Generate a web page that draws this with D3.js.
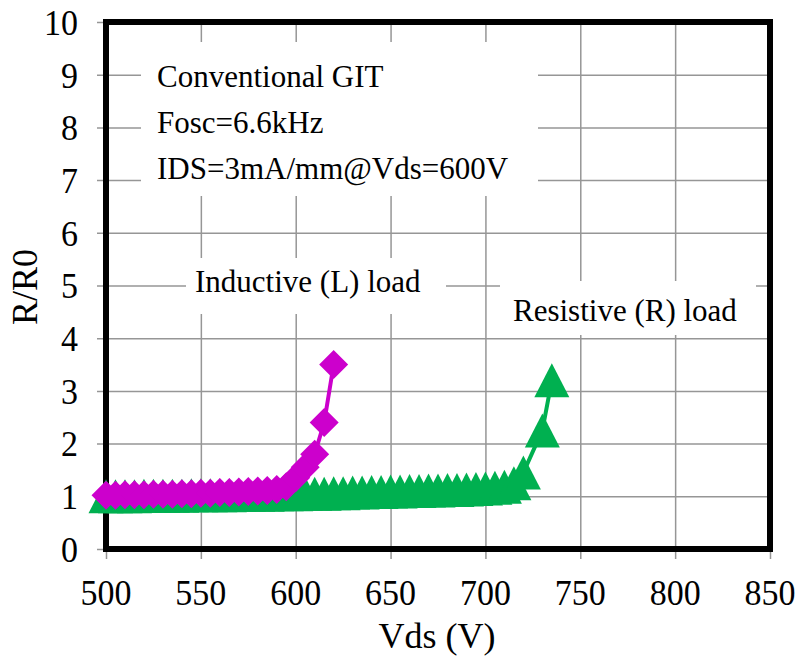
<!DOCTYPE html>
<html>
<head>
<meta charset="utf-8">
<script src="https://cdn.jsdelivr.net/npm/d3@7"></script>
<style>
  body { margin: 0; background: #fff; }
  text { font-family: 'Liberation Serif', 'Times New Roman', serif; fill: #000; }
</style>
</head>
<body>
<script>
  // inductive (L) load, magenta diamonds
  const vdsL = [500, 505, 510, 515, 520, 525, 530, 535, 540, 545, 550, 555, 560,
    565, 570, 575, 580, 585, 590, 595, 600, 605, 610, 615, 620];
  const rL = [1.02, 1.02, 1.03, 1.03, 1.03, 1.04, 1.04, 1.04, 1.05, 1.05, 1.06, 1.06, 1.07,
    1.07, 1.08, 1.09, 1.10, 1.11, 1.13, 1.18, 1.35, 1.55, 1.80, 2.40, 3.50];

  // resistive (R) load, green triangles
  const vdsR = [500, 505, 510, 515, 520, 525, 530, 535, 540, 545, 550, 555, 560, 565,
    570, 575, 580, 585, 590, 595, 600, 605, 610, 615, 620, 625, 630, 635, 640, 645,
    650, 655, 660, 665, 670, 675, 680, 685, 690, 695, 700, 705, 710, 715, 720, 730, 735];
  const rR = [1.00, 1.00, 1.00, 1.00, 1.01, 1.01, 1.01, 1.01, 1.01, 1.02, 1.02, 1.02, 1.02, 1.02,
    1.03, 1.03, 1.03, 1.03, 1.04, 1.04, 1.04, 1.05, 1.05, 1.05, 1.06, 1.06, 1.07, 1.07, 1.08, 1.08,
    1.09, 1.09, 1.10, 1.10, 1.11, 1.11, 1.12, 1.12, 1.13, 1.14, 1.15, 1.16, 1.18, 1.25, 1.45, 2.25, 3.20];

  const xTicks = [500, 550, 600, 650, 700, 750, 800, 850];
  const yTicks = [0, 1, 2, 3, 4, 5, 6, 7, 8, 9, 10];

  const notes = ['Conventional GIT', 'Fosc=6.6kHz', 'IDS=3mA/mm@Vds=600V'];

  const width = 798;
  const height = 658;
  const margin = { top: 22, right: 28, bottom: 109, left: 106 };

  const svg = d3.select('body').append('svg')
    .attr('width', width)
    .attr('height', height);

  const x = d3.scaleLinear().domain([500, 850]).range([margin.left, width - margin.right]);
  const y = d3.scaleLinear().domain([0, 10]).range([height - margin.bottom, margin.top]);

  const x0 = x.range()[0], x1 = x.range()[1];
  const y0 = y.range()[0], y1 = y.range()[1];

  // grid + outside ticks
  const gridY = svg.append('g')
    .attr('transform', `translate(${x0},0)`)
    .call(d3.axisLeft(y).tickValues(yTicks).tickSize(-(x1 - x0)).tickSizeOuter(0).tickFormat(''));
  gridY.selectAll('.tick line').attr('x1', -9);

  const gridX = svg.append('g')
    .attr('transform', `translate(0,${y0})`)
    .call(d3.axisBottom(x).tickValues(xTicks).tickSize(-(y0 - y1)).tickSizeOuter(0).tickFormat(''));
  gridX.selectAll('.tick line').attr('y1', 10);

  svg.selectAll('.domain').remove();
  svg.selectAll('.tick line').attr('stroke', '#969696').attr('stroke-width', 1.5);

  // tick labels (a bit taller than wide, like the source)
  svg.append('g').selectAll('text')
    .data(yTicks)
    .join('text')
    .attr('transform', (d) => `translate(78,${y(d)}) scale(1,1.08)`)
    .attr('dy', '0.35em')
    .attr('text-anchor', 'end')
    .attr('font-size', 34)
    .text((d) => d);

  svg.append('g').selectAll('text')
    .data(xTicks)
    .join('text')
    .attr('transform', (d) => `translate(${x(d)},605) scale(1,1.08)`)
    .attr('text-anchor', 'middle')
    .attr('font-size', 34)
    .text((d) => d);

  // axis titles
  svg.append('text')
    .attr('transform', 'translate(37,287) rotate(-90)')
    .attr('text-anchor', 'middle')
    .attr('font-size', 36)
    .text('R/R0');

  svg.append('text')
    .attr('x', 437)
    .attr('y', 648)
    .attr('text-anchor', 'middle')
    .attr('font-size', 36)
    .text('Vds (V)');

  // annotation boxes (white, hide grid)
  svg.append('rect').attr('x', 141).attr('y', 42).attr('width', 397).attr('height', 154).attr('fill', '#fff');
  svg.append('rect').attr('x', 186).attr('y', 258).attr('width', 260).attr('height', 56).attr('fill', '#fff');
  svg.append('rect').attr('x', 500).attr('y', 281).attr('width', 256).attr('height', 54).attr('fill', '#fff');

  svg.append('g').selectAll('text')
    .data(notes)
    .join('text')
    .attr('x', 157)
    .attr('y', (d, i) => 87 + i * 46)
    .attr('font-size', 31)
    .text((d) => d);

  svg.append('text').attr('x', 195).attr('y', 292).attr('font-size', 31).text('Inductive (L) load');
  svg.append('text').attr('x', 513).attr('y', 321).attr('font-size', 31).text('Resistive (R) load');

  // frame
  svg.append('rect')
    .attr('x', x0).attr('y', y1)
    .attr('width', x1 - x0).attr('height', y0 - y1)
    .attr('fill', 'none')
    .attr('stroke', '#000')
    .attr('stroke-width', 6);

  const line = d3.line().x((d) => x(d[0])).y((d) => y(d[1]));

  // resistive series
  const green = '#00B050';
  const ptsR = vdsR.map((v, i) => [v, rR[i]]);
  svg.append('path').datum(ptsR)
    .attr('d', line).attr('fill', 'none').attr('stroke', green).attr('stroke-width', 4);
  svg.append('g').selectAll('path')
    .data(ptsR)
    .join('path')
    .attr('transform', (d) => `translate(${x(d[0])},${y(d[1])})`)
    .attr('d', 'M0,-17L17.5,17L-17.5,17Z')
    .attr('fill', green);

  // inductive series
  const magenta = '#CC00CC';
  const ptsL = vdsL.map((v, i) => [v, rL[i]]);
  svg.append('path').datum(ptsL)
    .attr('d', line).attr('fill', 'none').attr('stroke', magenta).attr('stroke-width', 4);
  svg.append('g').selectAll('path')
    .data(ptsL)
    .join('path')
    .attr('transform', (d) => `translate(${x(d[0])},${y(d[1])})`)
    .attr('d', 'M0,-14.5L14.5,0L0,14.5L-14.5,0Z')
    .attr('fill', magenta);
</script>
</body>
</html>
